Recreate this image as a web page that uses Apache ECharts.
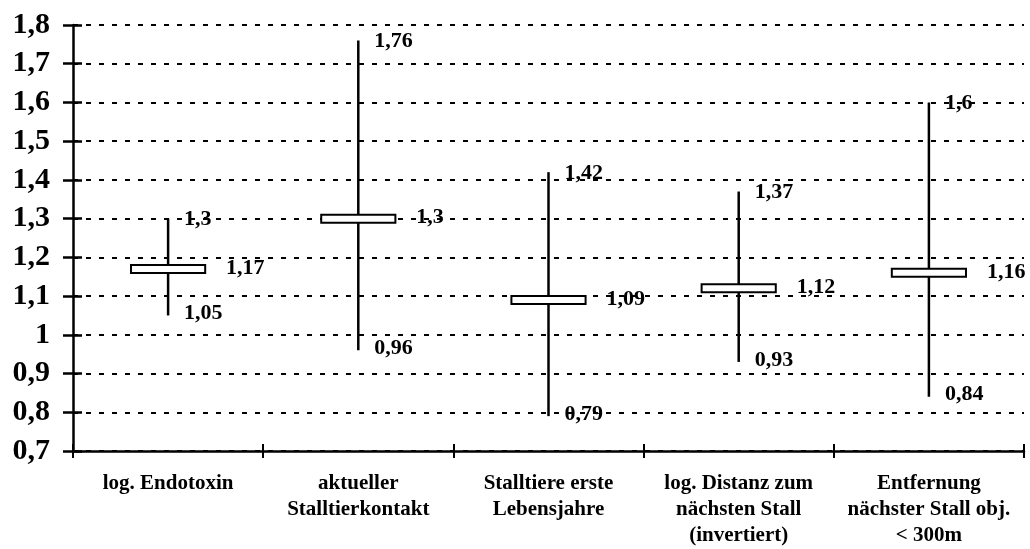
<!DOCTYPE html>
<html>
<head>
<meta charset="utf-8">
<script src="https://cdn.jsdelivr.net/npm/echarts@6/dist/echarts.min.js"></script>
<style>
html,body{margin:0;padding:0;background:#fff;}
#chart{width:1030px;height:549px;}
</style>
</head>
<body>
<div id="chart"></div>
<script>
var categories = ['log. Endotoxin', 'aktueller\nStalltierkontakt', 'Stalltiere erste\nLebensjahre', 'log. Distanz zum\nnächsten Stall\n(invertiert)', 'Entfernung\nnächster Stall obj.\n< 300m'];
var estimate = [1.17, 1.3, 1.09, 1.12, 1.16];
var lower = [1.05, 0.96, 0.79, 0.93, 0.84];
var upper = [1.3, 1.76, 1.42, 1.37, 1.6];
var yMin = 0.7, yMax = 1.8, yStep = 0.1;

var FONT = '"Liberation Serif", "Times New Roman", serif';
function fmt(v){ return String(+(+v).toFixed(2)).replace('.', ','); }

var data = categories.map(function(c, i){ return [i, lower[i], estimate[i], upper[i]]; });

function renderItem(params, api){
  var i = api.value(0);
  var pLow = api.coord([i, api.value(1)]);
  var pEst = api.coord([i, api.value(2)]);
  var pHigh = api.coord([i, api.value(3)]);
  var band = api.size([1, 0])[0];
  var bw = band * 0.39, bh = 8;
  var x = pEst[0];
  var lblFont = 'bold 22px ' + FONT;
  return {
    type: 'group',
    children: [
      {type: 'line', shape: {x1: x, y1: pHigh[1], x2: x, y2: pLow[1]}, style: {stroke: '#000', lineWidth: 2.5}},
      {type: 'rect', shape: {x: x - bw / 2, y: pEst[1] - bh / 2, width: bw, height: bh}, style: {fill: '#fff', stroke: '#000', lineWidth: 2}},
      {type: 'text', style: {text: fmt(api.value(3)), x: x + 16, y: Math.max(pHigh[1] + 1, 0) , font: lblFont, fill: '#000', align: 'left', verticalAlign: 'middle'}},
      {type: 'text', style: {text: fmt(api.value(2)), x: x + 58, y: pEst[1] - 1, font: lblFont, fill: '#000', align: 'left', verticalAlign: 'middle'}},
      {type: 'text', style: {text: fmt(api.value(1)), x: x + 16, y: pLow[1] - 2, font: lblFont, fill: '#000', align: 'left', verticalAlign: 'middle'}}
    ]
  };
}

var chart = echarts.init(document.getElementById('chart'), null, {renderer: 'canvas'});
var axisLineStyle = {color: '#000', width: 2.5};
chart.setOption({
  animation: false,
  backgroundColor: '#fff',
  grid: {left: 73, right: 6, top: 25, bottom: 93, containLabel: false},
  xAxis: [
    {
      type: 'category', data: categories, position: 'bottom', boundaryGap: true,
      axisLine: {show: true, lineStyle: axisLineStyle},
      axisTick: {show: true, inside: false, length: 7, lineStyle: {color: '#000', width: 2}},
      axisLabel: {interval: 0, margin: 20, color: '#000', fontFamily: FONT, fontWeight: 'bold', fontSize: 21, lineHeight: 26, align: 'center'},
      splitLine: {show: false}
    },
    {
      type: 'category', data: categories, position: 'bottom', boundaryGap: true,
      axisLine: {show: false},
      axisTick: {show: true, inside: true, length: 7, lineStyle: {color: '#000', width: 2}},
      axisLabel: {show: false},
      splitLine: {show: false}
    }
  ],
  yAxis: [
    {
      type: 'value', min: yMin, max: yMax, interval: yStep,
      axisLine: {show: true, lineStyle: axisLineStyle},
      axisTick: {show: true, inside: false, length: 10, lineStyle: {color: '#000', width: 2.5}},
      axisLabel: {margin: 23, color: '#000', fontFamily: FONT, fontWeight: 'bold', fontSize: 30,
        formatter: function(v){ return String(+v.toFixed(1)).replace('.', ','); }},
      splitLine: {show: true, lineStyle: {color: '#000', width: 2, type: [5, 8]}}
    },
    {
      type: 'value', min: yMin, max: yMax, interval: yStep, position: 'left',
      axisLine: {show: false},
      axisTick: {show: true, inside: true, length: 9, lineStyle: {color: '#000', width: 2.5}},
      axisLabel: {show: false},
      splitLine: {show: false}
    }
  ],
  series: [{
    type: 'custom',
    renderItem: renderItem,
    data: data,
    encode: {x: 0, y: [1, 2, 3]},
    clip: false,
    z: 10
  }]
});
</script>
</body>
</html>
